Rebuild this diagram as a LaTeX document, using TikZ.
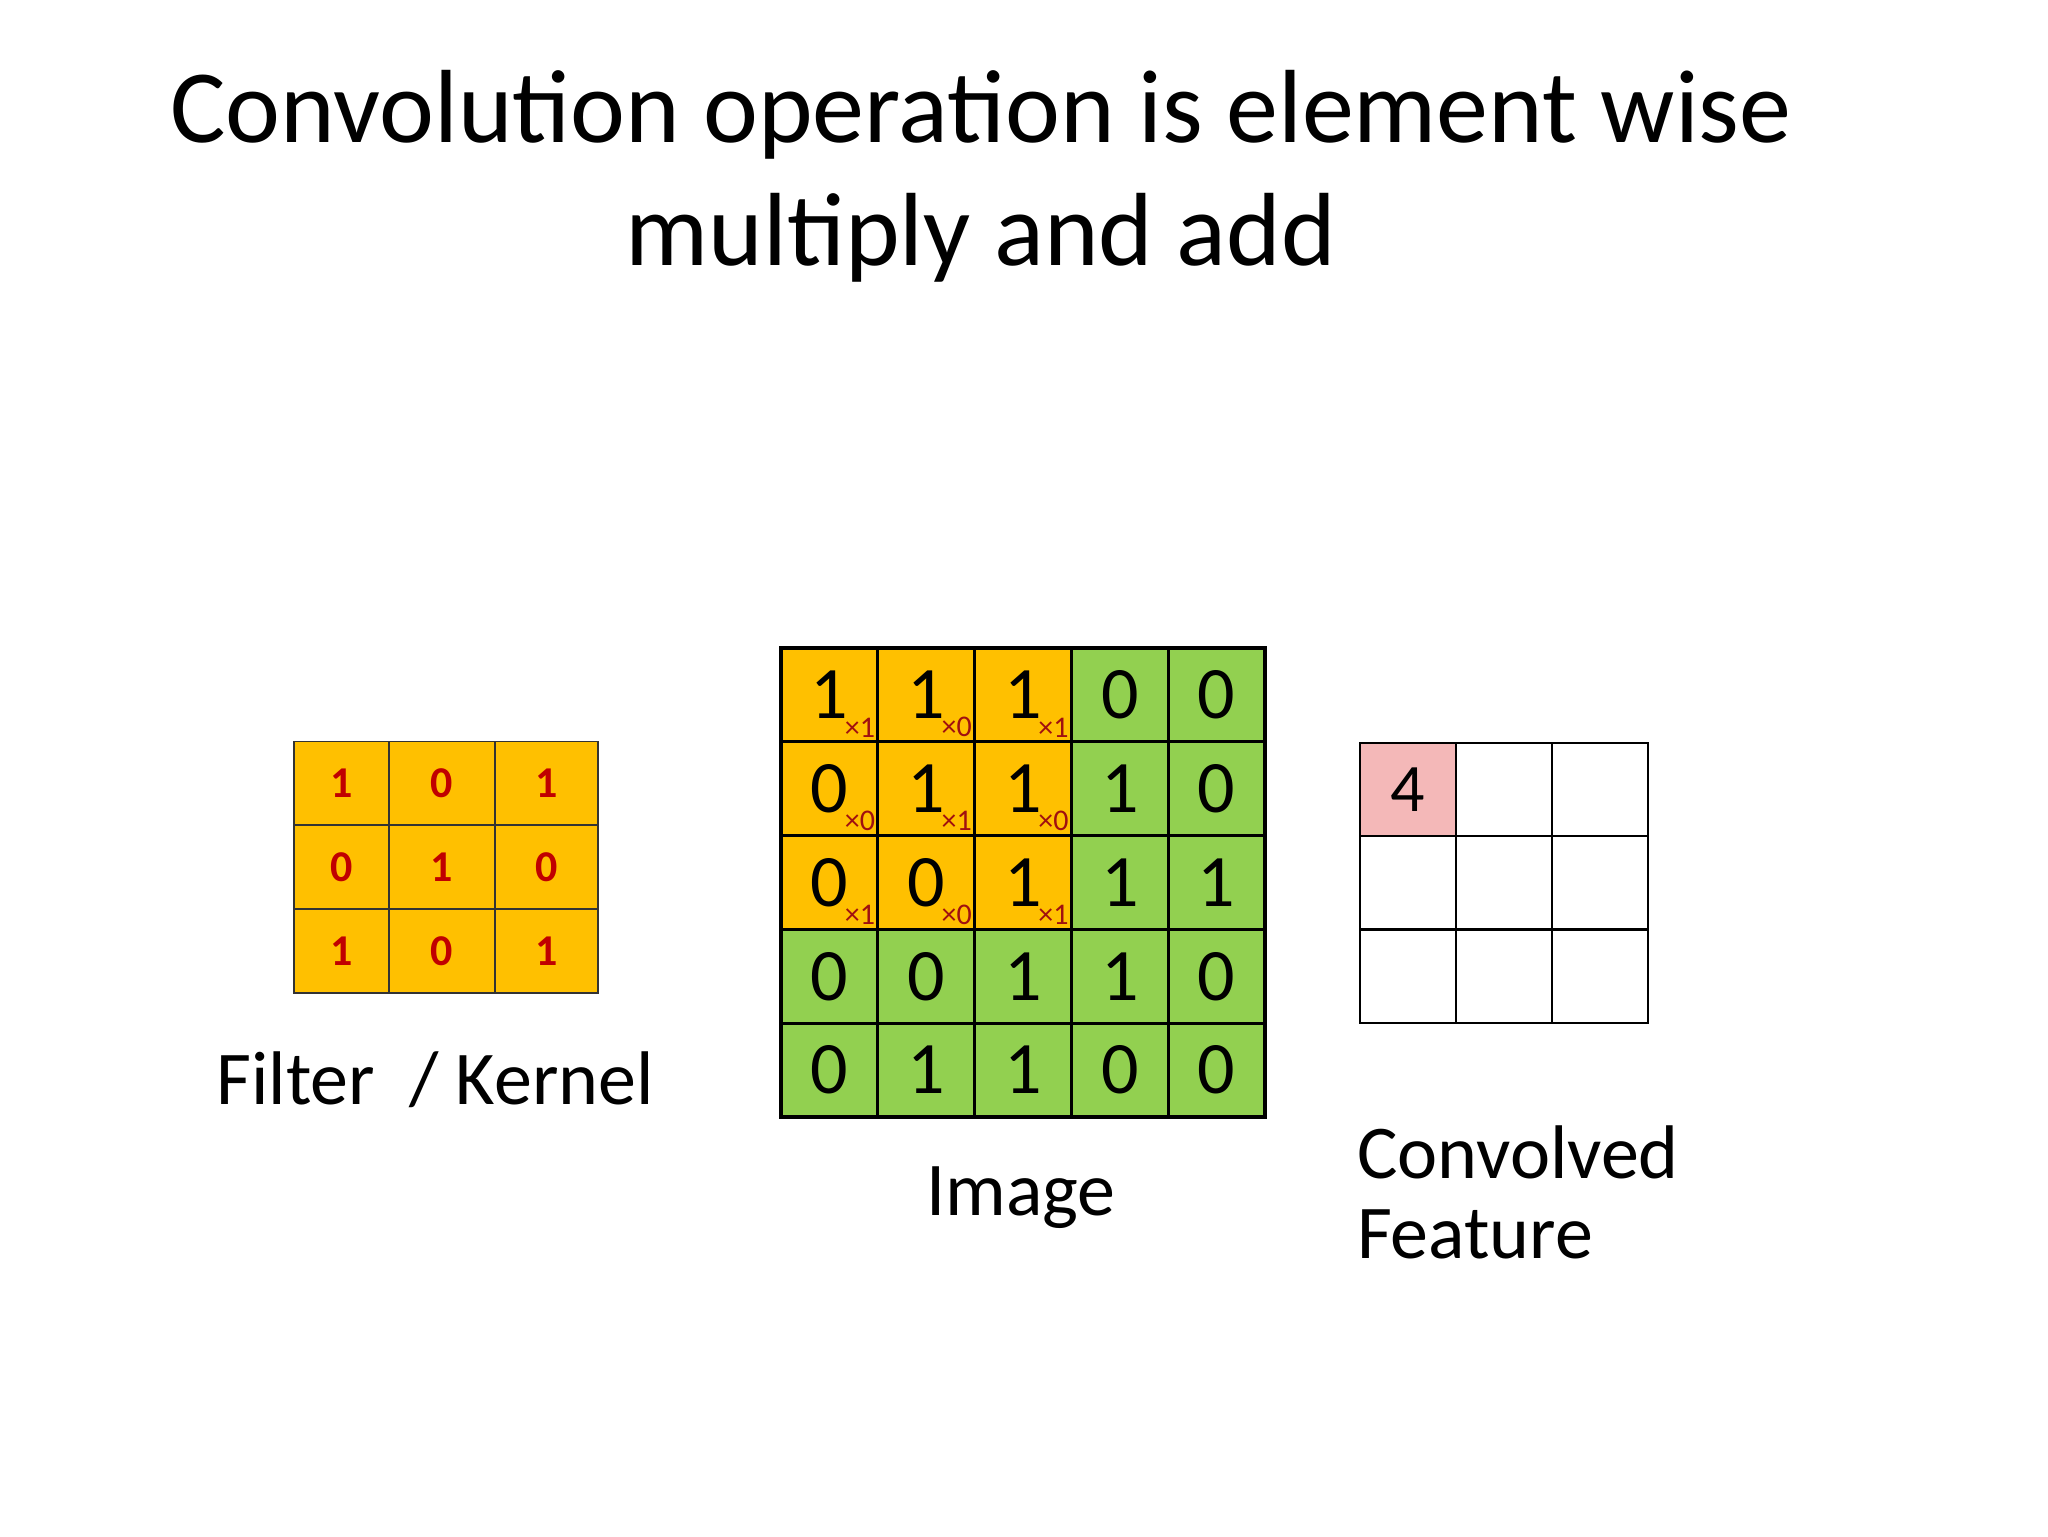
\documentclass[tikz,border=0pt]{standalone}
\usepackage{fontspec}
\setmainfont{Carlito}
\definecolor{org}{HTML}{FFC000}
\definecolor{grn}{HTML}{92D050}
\definecolor{knum}{HTML}{C00000}
\definecolor{sub}{HTML}{A01010}
\definecolor{pnk}{HTML}{F4B8B8}
\begin{document}
\begin{tikzpicture}[x=0.5pt,y=-0.5pt,
  lbl/.style={font=\fontsize{38}{44}\selectfont},
  kcell/.style={draw=black!80,line width=0.8pt,fill=org,minimum width=51pt,minimum height=42pt,inner sep=0pt,text=knum,font=\fontsize{22}{24}\selectfont\bfseries},
  icell/.style={draw=black,line width=1.6pt,minimum width=48.4pt,minimum height=46.9pt,inner sep=0pt,font=\fontsize{37}{40}\selectfont},
  ccell/.style={draw=black,line width=1.2pt,minimum width=48pt,minimum height=46.7pt,inner sep=0pt,font=\fontsize{34}{40}\selectfont},
  subl/.style={text=sub,font=\fontsize{15}{16}\selectfont,inner sep=0pt,anchor=south east}]
\useasboundingbox (0,0) rectangle (2048,1536);
\node (t1) at (981,115) {\fontsize{52}{60}\selectfont Convolution operation is element wise};
\node (t2) at (981,238) {\fontsize{52}{60}\selectfont multiply and add};
% kernel
\foreach \r/\a/\b/\c [count=\i from 0] in {0/1/0/1,1/0/1/0,2/1/0/1}{
  \node[kcell,minimum width=47.5pt] (k\i0) at (341.5,{783.5+\i*83.7}) {\a};
  \node[kcell,minimum width=53pt] (k\i1) at (442,{783.5+\i*83.7}) {\b};
  \node[kcell,minimum width=51.5pt] (k\i2) at (546.5,{783.5+\i*83.7}) {\c};
}
\node[lbl] (fl) at (435,1080) {Filter~~/ Kernel};
% image
\foreach \row [count=\i from 0] in {{1,1,1,0,0},{0,1,1,1,0},{0,0,1,1,1},{0,0,1,1,0},{0,1,1,0,0}}{
  \foreach \v [count=\j from 0] in \row {
    \pgfmathsetmacro{\fc}{(\i<3 && \j<3) ? 1 : 0}
    \ifnum\fc=1 \def\cc{org}\else\def\cc{grn}\fi
    \node[icell,fill=\cc] (m\i\j) at ({829.4+\j*96.8},{694.9+\i*93.8}) {\v};
  }
}
\foreach \i/\j/\w in {0/0/1,0/1/0,0/2/1,1/0/0,1/1/1,1/2/0,2/0/1,2/1/0,2/2/1}{
  \node[subl] (s\i\j) at ([xshift=-2pt,yshift=3pt]m\i\j.south east) {×\w};
}
\node[lbl] (il) at (1021,1198) {Image};
% convolved
\foreach \i in {0,1,2}{\foreach \j in {0,1,2}{
  \node[ccell] (c\i\j) at ({1408+\j*96},{789.5+\i*93.3}) {};
}}
\node[ccell,fill=pnk] (c00x) at (c00) {4};
\node[lbl,anchor=west,align=left] (cl) at (1350,1192) {Convolved\\[-4pt]Feature};
\end{tikzpicture}
\end{document}
